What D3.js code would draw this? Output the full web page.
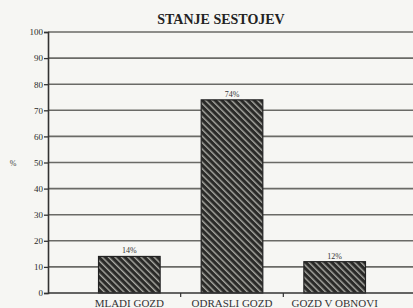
<!DOCTYPE html>
<html>
<head>
<meta charset="utf-8">
<script src="https://cdn.jsdelivr.net/npm/d3@7"></script>
<style>
  html, body { margin: 0; padding: 0; background: #f6f6f3; }
  svg { display: block; font-family: "Liberation Serif", "DejaVu Serif", serif; }
</style>
</head>
<body>
<svg id="chart" width="413" height="308"></svg>
<script>
const categories = ["MLADI GOZD", "ODRASLI GOZD", "GOZD V OBNOVI"];
const values = [14, 74, 12];
const valueLabels = ["14%", "74%", "12%"];
const yTicks = [0, 10, 20, 30, 40, 50, 60, 70, 80, 90, 100];

const svg = d3.select("#chart");
const plotLeft = 48, plotRight = 413, plotTop = 32, plotBottom = 293;

const x = d3.scaleBand()
  .domain(categories)
  .range([78, 386])
  .paddingInner(0.4)
  .paddingOuter(0.2);

const y = d3.scaleLinear()
  .domain([0, 100])
  .range([plotBottom, plotTop]);

// hatch pattern
const defs = svg.append("defs");
const pat = defs.append("pattern")
  .attr("id", "hatch")
  .attr("patternUnits", "userSpaceOnUse")
  .attr("width", 4.6)
  .attr("height", 4.6)
  .attr("patternTransform", "rotate(-45)");
pat.append("rect").attr("width", 4.6).attr("height", 4.6).attr("fill", "#2a2a28");
pat.append("rect").attr("x", 0).attr("y", 0).attr("width", 1.4).attr("height", 4.6).attr("fill", "#aaaaa4");

// title
svg.append("text")
  .attr("x", 221)
  .attr("y", 24)
  .attr("text-anchor", "middle")
  .attr("font-size", "14px")
  .attr("font-weight", "bold")
  .attr("fill", "#222")
  .text("STANJE SESTOJEV");

// gridlines
svg.append("g")
  .selectAll("line")
  .data(yTicks.filter(d => d > 0))
  .join("line")
  .attr("x1", plotLeft)
  .attr("x2", plotRight)
  .attr("y1", d => y(d))
  .attr("y2", d => y(d))
  .attr("stroke", "#6a6a66")
  .attr("stroke-width", 1.6);

// y axis
const yAxis = svg.append("g")
  .attr("transform", `translate(${plotLeft},0)`)
  .call(d3.axisLeft(y).tickValues(yTicks).tickSize(4).tickPadding(1));
yAxis.select(".domain").attr("stroke", "#333").attr("stroke-width", 1.6);
yAxis.selectAll(".tick line").attr("stroke", "#333").attr("stroke-width", 1.3);
yAxis.selectAll(".tick text")
  .attr("font-family", "Liberation Serif, serif")
  .attr("font-size", "9px")
  .attr("fill", "#2a2a2a");

// y label
svg.append("text")
  .attr("x", 13)
  .attr("y", 166)
  .attr("text-anchor", "middle")
  .attr("font-size", "8px")
  .attr("fill", "#444")
  .text("%");

// bars
svg.append("g")
  .selectAll("rect")
  .data(values)
  .join("rect")
  .attr("x", (d, i) => x(categories[i]))
  .attr("y", d => y(d))
  .attr("width", x.bandwidth())
  .attr("height", d => y(0) - y(d))
  .attr("fill", "url(#hatch)")
  .attr("stroke", "#222")
  .attr("stroke-width", 1.2);

// value labels
svg.append("g")
  .selectAll("text")
  .data(values)
  .join("text")
  .attr("x", (d, i) => x(categories[i]) + x.bandwidth() / 2)
  .attr("y", d => y(d) - 3)
  .attr("text-anchor", "middle")
  .attr("font-size", "8px")
  .attr("fill", "#333")
  .text((d, i) => valueLabels[i]);

// x axis
svg.append("line")
  .attr("x1", plotLeft)
  .attr("x2", plotRight)
  .attr("y1", y(0))
  .attr("y2", y(0))
  .attr("stroke", "#333")
  .attr("stroke-width", 1.6);

// ticks between categories
const step = x.step();
svg.append("g")
  .selectAll("line")
  .data(categories.slice(1))
  .join("line")
  .attr("x1", d => x(d) - step * x.paddingInner() / 2)
  .attr("x2", d => x(d) - step * x.paddingInner() / 2)
  .attr("y1", y(0))
  .attr("y2", y(0) + 4)
  .attr("stroke", "#333")
  .attr("stroke-width", 1.2);

svg.append("g")
  .selectAll("text")
  .data(categories)
  .join("text")
  .attr("x", d => x(d) + x.bandwidth() / 2)
  .attr("y", 307)
  .attr("text-anchor", "middle")
  .attr("font-size", "11px")
  .attr("fill", "#333")
  .text(d => d);
</script>
</body>
</html>
